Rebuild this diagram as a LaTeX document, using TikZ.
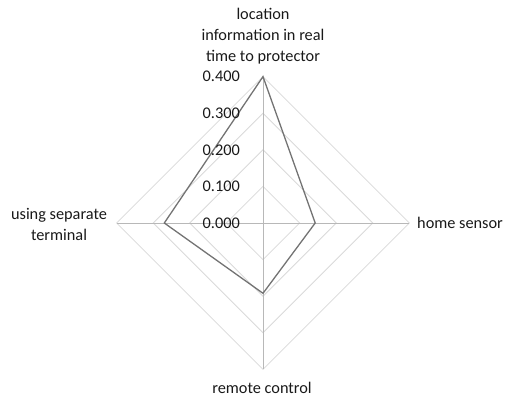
\documentclass[tikz,border=0pt]{standalone}
\usepackage{fontspec}
\setmainfont{Carlito}
\usetikzlibrary{calc}
\begin{document}
\begin{tikzpicture}[x=1pt,y=-1pt,
  ring/.style={draw=black!15,line width=0.8pt},
  spoke/.style={draw=black!28,line width=0.9pt},
  series/.style={draw=black!55,line width=1.3pt,line join=miter},
  lbl/.style={font=\fontsize{16.3}{21}\selectfont,text=black!90,inner sep=0pt,align=center},
  tick/.style={font=\fontsize{16.3}{21}\selectfont,text=black!90,inner sep=0pt,anchor=east}]
\useasboundingbox (0,0) rectangle (508,397);
\def\R{36.6}
\coordinate (c) at (263,223);
% rings
\foreach \k in {1,2,3,4}{
  \draw[ring] ($(c)+(0,-\k*\R)$) -- ($(c)+(\k*\R,0)$) -- ($(c)+(0,\k*\R)$) -- ($(c)+(-\k*\R,0)$) -- cycle;
}
\coordinate (top) at (263,76.6);
\coordinate (right) at (409.4,223);
\coordinate (bottom) at (263,369.4);
\coordinate (left) at (116.6,223);
\draw[spoke] (c) -- (top);
\draw[spoke] (c) -- (right);
\draw[spoke] (c) -- (bottom);
\draw[spoke] (c) -- (left);
% data
\coordinate (d1) at (263,76.6);
\coordinate (d2) at (315.2,223);
\coordinate (d3) at (263,293.3);
\coordinate (d4) at (164.3,223);
\draw[series] (d1) -- (d2) -- (d3) -- (d4) -- cycle;
% tick labels
\node[tick] (t4) at (240,76) {0.400};
\node[tick] (t3) at (240,113) {0.300};
\node[tick] (t2) at (240,150) {0.200};
\node[tick] (t1) at (240,186.5) {0.100};
\node[tick] (t0) at (240,223) {0.000};
% axis labels
\node[lbl] (ltop) at (263,36.5) {location\\information in real\\time to protector};
\node[lbl,anchor=west] (lright) at (417,223) {home sensor};
\node[lbl,anchor=base] (lbottom) at (262,393.5) {remote control};
\node[lbl] (lleft) at (59,224) {using separate\\terminal};
\end{tikzpicture}
\end{document}
